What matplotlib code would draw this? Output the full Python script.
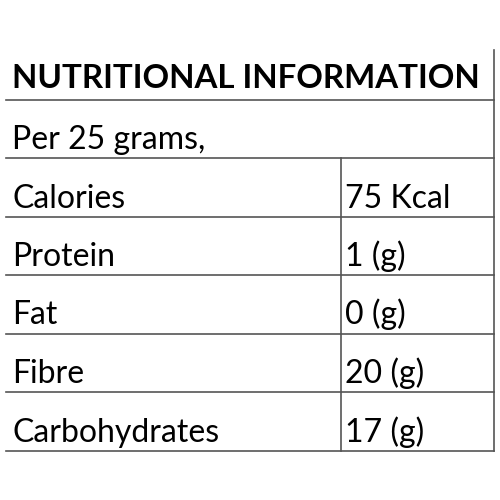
import matplotlib.pyplot as plt

title = "NUTRITIONAL INFORMATION"
subtitle = "Per 25 grams,"
nutrients = ["Calories", "Protein", "Fat", "Fibre", "Carbohydrates"]
amounts = ["75 Kcal", "1 (g)", "0 (g)", "20 (g)", "17 (g)"]

fig = plt.figure(figsize=(5, 5), dpi=100)
ax = fig.add_axes([0, 0, 1, 1])
ax.set_xlim(0, 500)
ax.set_ylim(500, 0)
ax.axis("off")

font = "Lato"
line_kw = dict(color="#555555", lw=1.2)
row_h = 58.5
left, right, split = 6, 494, 341
top_line = 99.5

ax.plot([right, right], [50, top_line + row_h * 6], **line_kw)
ax.text(12, 88, title, fontsize=23.8, fontweight="bold", family=font, va="baseline")
ax.plot([left, right], [top_line, top_line], **line_kw)
ax.text(12, top_line + row_h - 9, subtitle, fontsize=23, family=font, va="baseline")
y = top_line + row_h
ax.plot([left, right], [y, y], **line_kw)
ax.plot([split, split], [y, y + row_h * len(nutrients)], **line_kw)
for name, amount in zip(nutrients, amounts):
    base = y + row_h - 9
    ax.text(12, base, name, fontsize=23, family=font, va="baseline")
    ax.text(split + 4, base, amount, fontsize=23, family=font, va="baseline")
    y += row_h
    ax.plot([left, right], [y, y], **line_kw)

fig.savefig("out.png", dpi=100)
